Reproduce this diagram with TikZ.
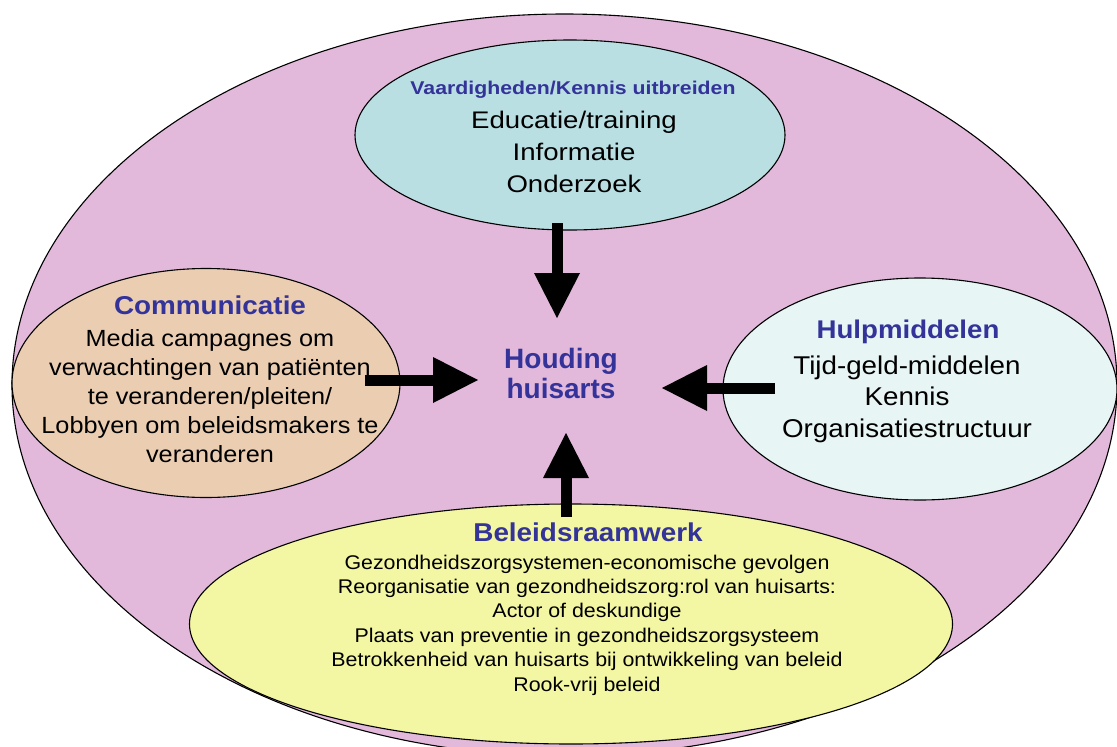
\documentclass[tikz,border=0pt]{standalone}
\usepackage{fontspec}
\setmainfont{Liberation Sans}
\newfontfamily\widefont[FakeStretch=1.08]{Liberation Sans}
\newfontfamily\widerfont[FakeStretch=1.15]{Liberation Sans}
\usetikzlibrary{shapes.geometric,arrows.meta}
\definecolor{roze}{HTML}{E2B8DB}
\definecolor{blauwgroen}{HTML}{B9DFE3}
\definecolor{perzik}{HTML}{EBCEB2}
\definecolor{lichtblauw}{HTML}{E8F5F5}
\definecolor{geel}{HTML}{F3F6A2}
\definecolor{titel}{HTML}{333399}
\begin{document}
\begin{tikzpicture}[x=1pt,y=-1pt]\tikzset{blob/.style = {shape=ellipse, draw, line width=1.1pt, inner sep=0pt},
	kop/.style = {text=titel, align=center},
	tekst/.style = {align=center},
	pijl/.style = {line width=11pt, -{Triangle[length=45pt,width=46pt,line width=0pt]}}}

		\useasboundingbox (0,0) rectangle (1117,747);

		\node[blob, fill=roze, minimum width=1105pt, minimum height=742pt] (omgeving) at (564.5,385) {};
		\node[blob, fill=blauwgroen, minimum width=430pt, minimum height=190pt] (kennis) at (570,135) {};
		\node[blob, fill=perzik, minimum width=388pt, minimum height=229pt] (communicatie) at (206,383) {};
		\node[blob, fill=lichtblauw, minimum width=394pt, minimum height=222pt] (hulp) at (920,389) {};
		\node[blob, fill=geel, minimum width=763pt, minimum height=240pt] (beleid) at (571,624) {};

		\node[kop, font=\widerfont\bfseries\fontsize{18.5}{22}\selectfont] (kennis_kop) at (573,90) {Vaardigheden/Kennis uitbreiden};
		\node[tekst, font=\widerfont\fontsize{24}{32}\selectfont] (kennis_tekst) at (574,152) {Educatie/training\\Informatie\\Onderzoek};

		\node[kop, font=\widefont\bfseries\fontsize{25.8}{30}\selectfont] (communicatie_kop) at (210,305) {Communicatie};
		\node[tekst, font=\widefont\fontsize{23.4}{29}\selectfont] (communicatie_tekst) at (210,396) {Media campagnes om\\verwachtingen van patiënten\\te veranderen/pleiten/\\Lobbyen om beleidsmakers te\\veranderen};

		\node[kop, font=\widefont\bfseries\fontsize{25.6}{30}\selectfont] (hulp_kop) at (908,332) {Hulpmiddelen};
		\node[tekst, font=\widefont\fontsize{25.7}{31.5}\selectfont] (hulp_tekst) at (907,399) {Tijd-geld-middelen\\Kennis\\Organisatiestructuur};

		\node[kop, font=\widefont\bfseries\fontsize{25.8}{30}\selectfont] (beleid_kop) at (588,532) {Beleidsraamwerk};
		\node[tekst, font=\widefont\fontsize{19.8}{24.4}\selectfont] (beleid_tekst) at (587,625) {Gezondheidszorgsystemen-economische gevolgen\\Reorganisatie van gezondheidszorg:rol van huisarts:\\Actor of deskundige\\Plaats van preventie in gezondheidszorgsysteem\\Betrokkenheid van huisarts bij ontwikkeling van beleid\\Rook-vrij beleid};

		\node[kop, font=\bfseries\fontsize{28}{30}\selectfont] (houding) at (561,373) {Houding\\huisarts};

		\coordinate (kennis_uit) at (557,223);
		\coordinate (kennis_in) at (557,318);
		\coordinate (communicatie_uit) at (365,380);
		\coordinate (communicatie_in) at (478,380);
		\coordinate (hulp_uit) at (775,388);
		\coordinate (hulp_in) at (662,388);
		\coordinate (beleid_uit) at (566,517);
		\coordinate (beleid_in) at (566,433);

		\draw[pijl] (kennis_uit) -- (kennis_in);
		\draw[pijl] (communicatie_uit) -- (communicatie_in);
		\draw[pijl] (hulp_uit) -- (hulp_in);
		\draw[pijl] (beleid_uit) -- (beleid_in);
	\end{tikzpicture}
\end{document}
